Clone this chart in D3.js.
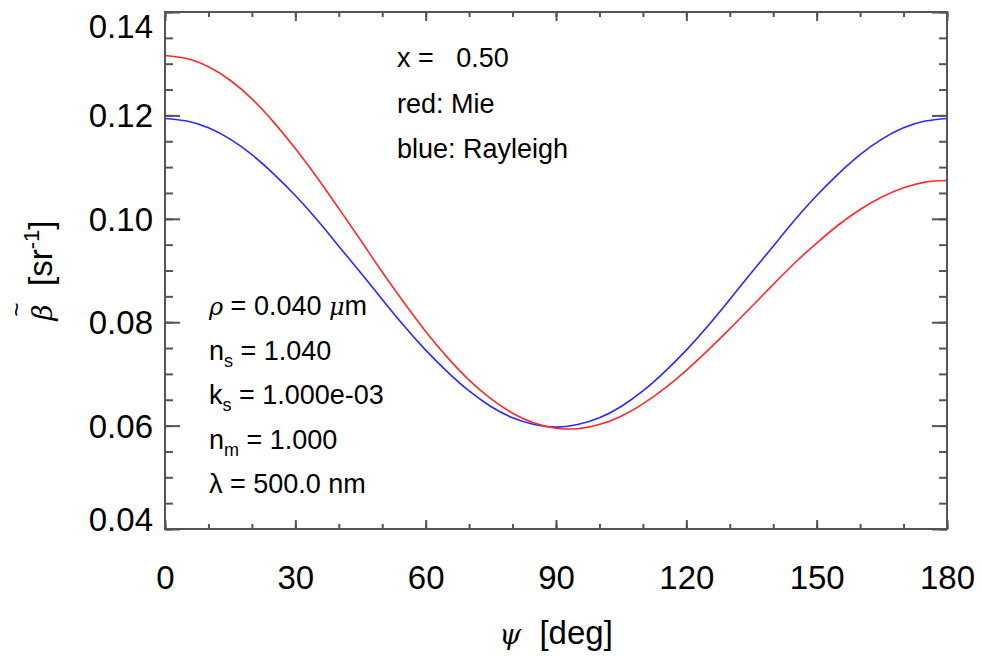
<!DOCTYPE html>
<html>
<head>
<meta charset="utf-8">
<script src="https://cdn.jsdelivr.net/npm/d3@7"></script>
<style>
body { margin: 0; background: #fff; }
text { font-family: "Liberation Sans", Arial, sans-serif; fill: #000; }
</style>
</head>
<body>
<div id="chart"></div>
<script>
// scattering angle (deg)
const angles = [0, 5, 10, 15, 20, 25, 30, 35, 40, 45, 50, 55, 60, 65, 70, 75, 80, 85, 90,
	95, 100, 105, 110, 115, 120, 125, 130, 135, 140, 145, 150, 155, 160, 165, 170, 175, 180];
// red: Mie
const mie = [0.1316, 0.1310, 0.1294, 0.1268, 0.1232, 0.1187, 0.1136, 0.1080, 0.1020, 0.0959,
	0.0897, 0.0838, 0.0782, 0.0732, 0.0688, 0.0652, 0.0624, 0.0605, 0.0595,
	0.0594, 0.0602, 0.0618, 0.0642, 0.0672, 0.0707, 0.0746, 0.0787, 0.0830, 0.0873,
	0.0915, 0.0953, 0.0988, 0.1018, 0.1042, 0.1060, 0.1071, 0.1074];
// blue: Rayleigh
const rayleigh = [0.1194, 0.1189, 0.1176, 0.1154, 0.1124, 0.1087, 0.1045, 0.0998, 0.0947, 0.0896,
	0.0844, 0.0793, 0.0746, 0.0704, 0.0667, 0.0637, 0.0615, 0.0602, 0.0597,
	0.0602, 0.0615, 0.0637, 0.0667, 0.0704, 0.0746, 0.0793, 0.0844, 0.0896, 0.0947,
	0.0998, 0.1045, 0.1087, 0.1124, 0.1154, 0.1176, 0.1189, 0.1194];

const xTicks = [0, 30, 60, 90, 120, 150, 180];
const xMinor = d3.range(0, 181, 10);
const yTicks = [0.04, 0.06, 0.08, 0.10, 0.12, 0.14];
const yMinor = d3.range(0.04, 0.1401, 0.005);

const topNotes = ["x =   0.50", "red: Mie", "blue: Rayleigh"];
// parameter block, pieces: [text, style] (i = italic, s = subscript)
const leftNotes = [
	[["\u03C1", "i"], [" = 0.040 ", ""], ["\u03BC", "i"], ["m", ""]],
	[["n", ""], ["s", "s"], [" = 1.040", ""]],
	[["k", ""], ["s", "s"], [" = 1.000e-03", ""]],
	[["n", ""], ["m", "s"], [" = 1.000", ""]],
	[["\u03BB", ""], [" = 500.0 nm", ""]]
];

const W = 982, H = 658;
const margin = {top: 12, right: 35, bottom: 129, left: 165};

const svg = d3.select("#chart").append("svg")
	.attr("width", W)
	.attr("height", H);

const xScale = d3.scaleLinear().domain([0, 180]).range([margin.left, W - margin.right]);
const yScale = d3.scaleLinear().domain([0.04, 0.14]).range([H - margin.bottom, margin.top]);

const x0 = xScale.range()[0], x1 = xScale.range()[1];
const y0 = yScale.range()[0], y1 = yScale.range()[1];
const axisColor = "#555";

// curves
const line = d3.line()
	.x((d, i) => xScale(angles[i]))
	.y(d => yScale(d))
	.curve(d3.curveNatural);

svg.append("path").datum(rayleigh)
	.attr("fill", "none").attr("stroke", "#2a2aff").attr("stroke-width", 1.6)
	.attr("d", line);
svg.append("path").datum(mie)
	.attr("fill", "none").attr("stroke", "#ff2a2a").attr("stroke-width", 1.6)
	.attr("d", line);

// axes: ticks pointing inward on all four sides
function styleAxis(g) {
	g.select(".domain").remove();
	g.selectAll(".tick line").attr("stroke", axisColor).attr("stroke-width", 2);
	g.selectAll(".tick text").style("font-size", "33px").attr("fill", "#000");
}

svg.append("g").attr("transform", `translate(0,${y0})`)
	.call(d3.axisBottom(xScale).tickValues(xMinor).tickSize(-5).tickFormat(""))
	.call(styleAxis);
svg.append("g").attr("transform", `translate(0,${y0})`)
	.call(d3.axisBottom(xScale).tickValues(xTicks).tickSize(-9).tickPadding(37).tickFormat(d3.format("d")))
	.call(styleAxis);
svg.append("g").attr("transform", `translate(0,${y1})`)
	.call(d3.axisTop(xScale).tickValues(xMinor).tickSize(-5).tickFormat(""))
	.call(styleAxis);
svg.append("g").attr("transform", `translate(0,${y1})`)
	.call(d3.axisTop(xScale).tickValues(xTicks).tickSize(-9).tickFormat(""))
	.call(styleAxis);

svg.append("g").attr("transform", `translate(${x0},0)`)
	.call(d3.axisLeft(yScale).tickValues(yMinor).tickSize(-8).tickFormat(""))
	.call(styleAxis);
const yAxisG = svg.append("g").attr("transform", `translate(${x0},0)`)
	.call(d3.axisLeft(yScale).tickValues(yTicks).tickSize(-15).tickPadding(12).tickFormat(d3.format(".2f")))
	.call(styleAxis);
svg.append("g").attr("transform", `translate(${x1},0)`)
	.call(d3.axisRight(yScale).tickValues(yMinor).tickSize(-8).tickFormat(""))
	.call(styleAxis);
svg.append("g").attr("transform", `translate(${x1},0)`)
	.call(d3.axisRight(yScale).tickValues(yTicks).tickSize(-15).tickFormat(""))
	.call(styleAxis);

// end labels sit inside the axis range
yAxisG.selectAll(".tick text")
	.attr("dy", d => d === 0.14 ? "0.78em" : (d === 0.04 ? "0.05em" : "0.35em"));

// frame
svg.append("rect")
	.attr("x", x0).attr("y", y1)
	.attr("width", x1 - x0).attr("height", y0 - y1)
	.attr("fill", "none").attr("stroke", axisColor).attr("stroke-width", 2);

// axis titles
const xt = svg.append("text")
	.attr("x", xScale(90)).attr("y", 644)
	.attr("text-anchor", "middle")
	.style("font-size", "33px")
	.style("white-space", "pre");
xt.append("tspan").style("font-family", "DejaVu Serif").style("font-style", "italic").style("font-size", "28px").text("\u03C8");
xt.append("tspan").text("  [deg]");

const ytX = 52, ytY = (y0 + y1) / 2;
const yt = svg.append("text")
	.attr("transform", `translate(${ytX},${ytY}) rotate(-90)`)
	.attr("text-anchor", "middle")
	.style("font-size", "33px")
	.style("white-space", "pre");
const beta = yt.append("tspan").style("font-family", "DejaVu Serif").style("font-style", "italic").style("font-size", "28px").text("\u03B2");
yt.append("tspan").text("  [sr");
yt.append("tspan").style("font-size", "22px").attr("dy", -13).text("-1");
yt.append("tspan").attr("dy", 13).text("]");

// tilde over beta
const bb = beta.node().getExtentOfChar ? yt.node().getExtentOfChar(0) : null;
const bx = bb ? bb.x + bb.width / 2 + 3 : -95;
svg.append("text")
	.attr("transform", `translate(${ytX},${ytY}) rotate(-90)`)
	.attr("x", bx).attr("y", -27)
	.attr("text-anchor", "middle")
	.style("font-size", "24px")
	.text("~");

// annotations
svg.selectAll(".topnote").data(topNotes).enter().append("text")
	.attr("class", "topnote")
	.attr("x", 397)
	.attr("y", (d, i) => 67 + i * 45.5)
	.style("font-size", "27px")
	.style("white-space", "pre")
	.text(d => d);

leftNotes.forEach((parts, i) => {
	const t = svg.append("text")
		.attr("x", 209)
		.attr("y", 315 + i * 44.5)
		.style("font-size", "27px")
		.style("white-space", "pre");
	let shift = 0;
	parts.forEach(p => {
		const s = t.append("tspan").text(p[0]);
		if (p[1] === "i") s.style("font-style", "italic").style("font-family", "DejaVu Serif").style("font-size", "24px");
		if (p[1] === "s") { s.style("font-size", "18px").attr("dy", 7); shift = 7; }
		else if (shift) { s.attr("dy", -shift); shift = 0; }
	});
});
</script>
</body>
</html>
